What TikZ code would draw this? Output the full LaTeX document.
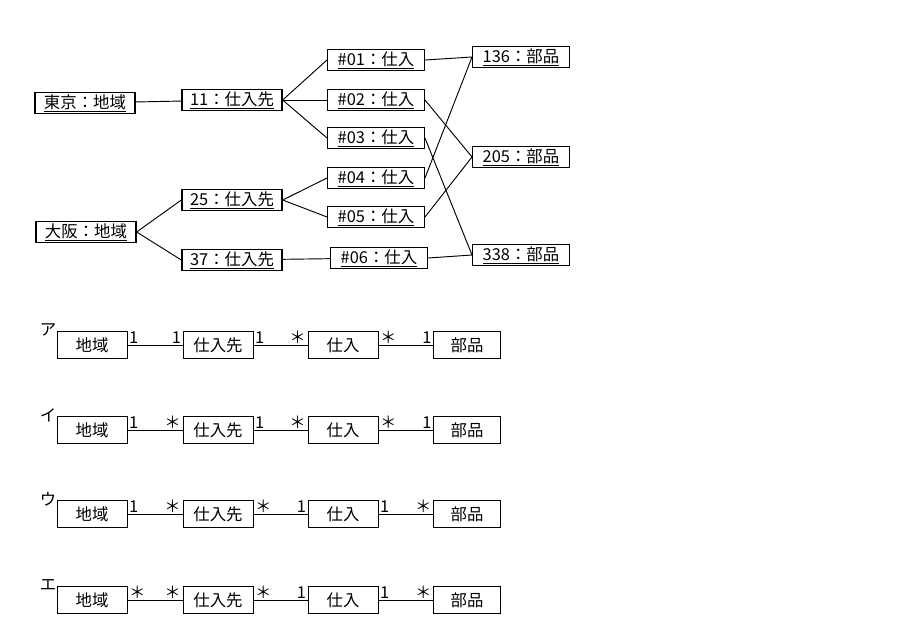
\documentclass[tikz,border=0pt]{standalone}
\usepackage{fontspec}
\setmainfont{Noto Sans CJK JP}
\usetikzlibrary{positioning}
\newcommand\mstar{＊}
\begin{document}
\begin{tikzpicture}[x=0.03cm,y=-0.03cm,
  obj/.style={rectangle, draw=black, line width=1.1pt, inner sep=1pt, minimum height=0.62cm, font=\fontsize{14}{15}\selectfont},
  cls/.style={rectangle, draw=black, line width=0.8pt, inner sep=1pt, minimum height=0.8cm, font=\fontsize{14}{15}\selectfont},
  link/.style={line width=0.8pt},
  mul/.style={font=\fontsize{14}{15}\selectfont, inner sep=1pt}]
  \useasboundingbox (0,0) rectangle (901,632);

  % object diagram
  \node[obj, minimum width=3cm] (tokyo) at (85,103) {\underline{東京：地域}};
  \node[obj, minimum width=3cm] (osaka) at (86,232) {\underline{大阪：地域}};
  \node[obj, minimum width=3cm] (s11) at (232,100) {\underline{11：仕入先}};
  \node[obj, minimum width=3cm] (s25) at (232,200) {\underline{25：仕入先}};
  \node[obj, minimum width=3cm] (s37) at (232,260) {\underline{37：仕入先}};
  \node[obj, minimum width=2.9cm] (p1) at (376,60) {\underline{\#01：仕入}};
  \node[obj, minimum width=2.9cm] (p2) at (376,100) {\underline{\#02：仕入}};
  \node[obj, minimum width=2.9cm] (p3) at (376,138) {\underline{\#03：仕入}};
  \node[obj, minimum width=2.9cm] (p4) at (376,178) {\underline{\#04：仕入}};
  \node[obj, minimum width=2.9cm] (p5) at (376,217) {\underline{\#05：仕入}};
  \node[obj, minimum width=2.9cm] (p6) at (379,258) {\underline{\#06：仕入}};
  \node[obj, minimum width=2.9cm] (b136) at (521,57) {\underline{136：部品}};
  \node[obj, minimum width=2.9cm] (b205) at (521,157) {\underline{205：部品}};
  \node[obj, minimum width=2.9cm] (b338) at (521,255) {\underline{338：部品}};

  \draw[link] (tokyo) -- (s11);
  \draw[link] (osaka.east) -- (s25.west);
  \draw[link] (osaka.east) -- (s37.west);
  \foreach \p in {p1,p2,p3} \draw[link] (s11.east) -- (\p.west);
  \foreach \p in {p4,p5} \draw[link] (s25.east) -- (\p.west);
  \draw[link] (s37) -- (p6);
  \draw[link] (p1.east) -- (b136.west);
  \draw[link] (p4.east) -- (b136.west);
  \draw[link] (p2.east) -- (b205.west);
  \draw[link] (p5.east) -- (b205.west);
  \draw[link] (p3.east) -- (b338.west);
  \draw[link] (p6.east) -- (b338.west);

  % choices
  \foreach \lab/\y/\a/\b/\c/\d/\e/\f [count=\i] in
      {ア/345/1/1/1/\mstar/\mstar/1, イ/430/1/\mstar/1/\mstar/\mstar/1,
       ウ/514/1/\mstar/\mstar/1/1/\mstar, エ/600/\mstar/\mstar/\mstar/1/1/\mstar} {
    \node[font=\fontsize{14}{15}\selectfont] (lab\i) at (48,\y-15) {\lab};
    \node[cls, minimum width=2.1cm] (area\i) at (92,\y) {地域};
    \node[cls, minimum width=2.1cm] (supp\i) at (218,\y) {仕入先};
    \node[cls, minimum width=2.1cm] (buy\i) at (343,\y) {仕入};
    \node[cls, minimum width=2cm] (part\i) at (467,\y) {部品};
    \draw[link] (area\i) -- node[mul, pos=0, above right] {\a} node[mul, pos=1, above left] {\b} (supp\i);
    \draw[link] (supp\i) -- node[mul, pos=0, above right] {\c} node[mul, pos=1, above left] {\d} (buy\i);
    \draw[link] (buy\i) -- node[mul, pos=0, above right] {\e} node[mul, pos=1, above left] {\f} (part\i);
  }
\end{tikzpicture}
\end{document}
